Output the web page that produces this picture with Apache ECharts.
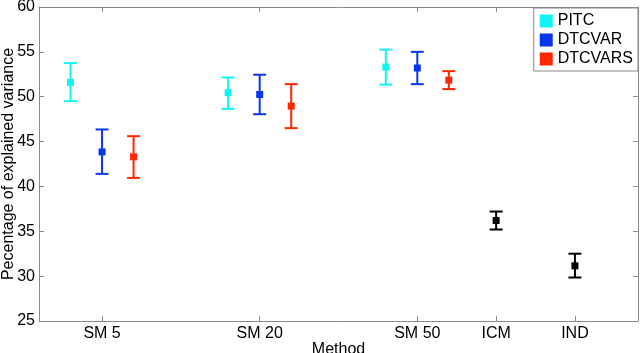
<!DOCTYPE html>
<html>
<head>
<meta charset="utf-8">
<script src="https://cdn.jsdelivr.net/npm/echarts@6/dist/echarts.min.js"></script>
<style>
  html, body { margin: 0; padding: 0; background: #fff; }
  #chart { width: 640px; height: 353px; }
</style>
</head>
<body>
<div id="chart"></div>
<script>
// 카테고리 / 위치
const categories = ["SM 5", "SM 20", "SM 50", "ICM", "IND"];
const categoryPos = [1, 3, 5, 6, 7];
const yTicks = [25, 30, 35, 40, 45, 50, 55, 60];

// SM 5, SM 20, SM 50
const pitcMean = [51.6, 50.45, 53.3];
const pitcLow = [49.5, 48.65, 51.35];
const pitcHigh = [53.75, 52.15, 55.25];

const dtcvarMean = [43.85, 50.25, 53.2];
const dtcvarLow = [41.4, 48.05, 51.4];
const dtcvarHigh = [46.35, 52.45, 55.0];

const dtcvarsMean = [43.3, 48.95, 51.85];
const dtcvarsLow = [40.95, 46.5, 50.85];
const dtcvarsHigh = [45.6, 51.4, 52.85];

// ICM, IND
const baseMean = [36.2, 31.15];
const baseLow = [35.2, 29.85];
const baseHigh = [37.2, 32.5];

const FONT = "Liberation Sans";
const AXIS_COLOR = "#8a8a8a";

function buildData(posList, offset, mean, low, high) {
    return mean.map(function (m, i) {
        return [posList[i] + offset, m, low[i], high[i]];
    });
}

function renderErrorBar(params, api) {
    const x = api.value(0);
    const c = api.coord([x, api.value(1)]);
    const lo = api.coord([x, api.value(2)]);
    const hi = api.coord([x, api.value(3)]);
    const color = api.visual("color");
    const hw = 6.5;
    const ms = 3.5;
    const lineStyle = { stroke: color, lineWidth: 2 };
    return {
        type: "group",
        children: [
            { type: "line", shape: { x1: c[0], y1: hi[1], x2: c[0], y2: lo[1] }, style: lineStyle },
            { type: "line", shape: { x1: c[0] - hw, y1: hi[1], x2: c[0] + hw, y2: hi[1] }, style: lineStyle },
            { type: "line", shape: { x1: c[0] - hw, y1: lo[1], x2: c[0] + hw, y2: lo[1] }, style: lineStyle },
            { type: "rect", shape: { x: c[0] - ms, y: c[1] - ms, width: ms * 2, height: ms * 2 }, style: { fill: color } },
        ],
    };
}

function errorSeries(name, color, data) {
    return {
        name: name,
        type: "custom",
        renderItem: renderErrorBar,
        encode: { x: 0, y: [1, 2, 3] },
        itemStyle: { color: color },
        data: data,
        z: 3,
    };
}

const smPos = categoryPos.slice(0, 3);
const basePos = categoryPos.slice(3);

const option = {
    animation: false,
    backgroundColor: "#fff",
    textStyle: { fontFamily: FONT },
    grid: { left: 39, right: 2, top: 7, bottom: 32, containLabel: false, outerBoundsMode: "none" },
    legend: {
        data: ["PITC", "DTCVAR", "DTCVARS"],
        orient: "vertical",
        right: 2,
        top: 8,
        icon: "rect",
        itemWidth: 13,
        itemHeight: 13,
        itemGap: 3,
        padding: [5, 5, 4, 6],
        borderColor: "#888",
        borderWidth: 1,
        backgroundColor: "#fff",
        textStyle: { fontFamily: FONT, fontSize: 16, color: "#000" },
    },
    xAxis: [
        {
            type: "value",
            min: 0.2,
            max: 7.8,
            name: "Method",
            nameLocation: "middle",
            nameGap: 21,
            nameMoveOverlap: false,
            nameTextStyle: { fontFamily: FONT, fontSize: 16, color: "#000" },
            axisLine: { onZero: false, lineStyle: { color: AXIS_COLOR, width: 1 } },
            axisTick: { inside: true, length: 5, customValues: categoryPos, lineStyle: { color: AXIS_COLOR } },
            axisLabel: {
                customValues: categoryPos,
                margin: 5,
                fontFamily: FONT,
                fontSize: 16,
                color: "#000",
                formatter: function (v) {
                    return categories[categoryPos.indexOf(v)];
                },
            },
            splitLine: { show: false },
        },
        {
            type: "value",
            position: "top",
            min: 0.2,
            max: 7.8,
            axisLine: { onZero: false, lineStyle: { color: AXIS_COLOR, width: 1 } },
            axisTick: { inside: true, length: 5, customValues: categoryPos, lineStyle: { color: AXIS_COLOR } },
            axisLabel: { show: false },
            splitLine: { show: false },
        },
    ],
    yAxis: [
        {
            type: "value",
            min: 25,
            max: 60,
            interval: 5,
            name: "Pecentage of explained variance",
            nameLocation: "middle",
            nameGap: 22,
            nameMoveOverlap: false,
            nameTextStyle: { fontFamily: FONT, fontSize: 16, color: "#000" },
            axisLine: { show: true, onZero: false, lineStyle: { color: AXIS_COLOR, width: 1 } },
            axisTick: { show: true, inside: true, length: 5, customValues: yTicks, lineStyle: { color: AXIS_COLOR } },
            axisLabel: { margin: 4, fontFamily: FONT, fontSize: 16, color: "#000" },
            splitLine: { show: false },
        },
        {
            type: "value",
            position: "right",
            min: 25,
            max: 60,
            interval: 5,
            axisLine: { show: true, onZero: false, lineStyle: { color: AXIS_COLOR, width: 1 } },
            axisTick: { show: true, inside: true, length: 5, lineStyle: { color: AXIS_COLOR } },
            axisLabel: { show: false },
            splitLine: { show: false },
        },
    ],
    series: [
        errorSeries("PITC", "#10f4f4", buildData(smPos, -0.4, pitcMean, pitcLow, pitcHigh)),
        errorSeries("DTCVAR", "#0a36f2", buildData(smPos, 0, dtcvarMean, dtcvarLow, dtcvarHigh)),
        errorSeries("DTCVARS", "#ff2600", buildData(smPos, 0.4, dtcvarsMean, dtcvarsLow, dtcvarsHigh)),
        errorSeries("baseline", "#000000", buildData(basePos, 0, baseMean, baseLow, baseHigh)),
    ],
};

const chart = echarts.init(document.getElementById("chart"), null, { renderer: "canvas" });
chart.setOption(option);
</script>
</body>
</html>
